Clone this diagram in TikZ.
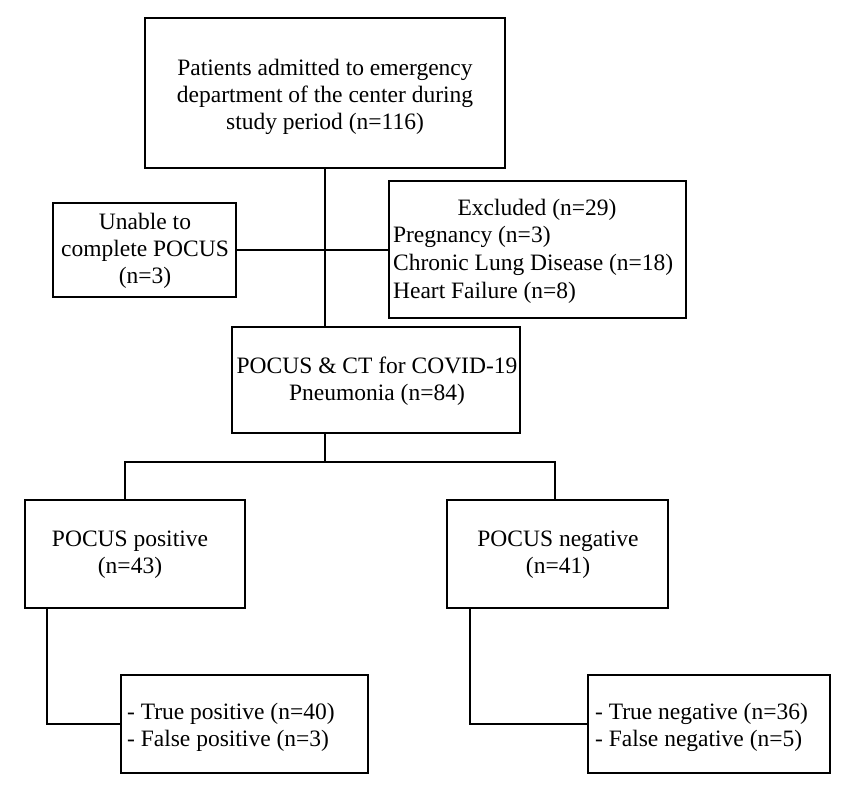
\documentclass[tikz,border=0pt]{standalone}
\usepackage{fontspec}
\setmainfont{Liberation Serif}
\begin{document}
\begin{tikzpicture}[x=1pt,y=-1pt,line width=2.2pt,
  box/.style={draw,black},
  t/.style={font=\fontsize{23.5}{27}\selectfont,inner sep=0pt}]
\useasboundingbox (0,0) rectangle (856,786);
\draw[box] (145,18) rectangle (505,168);
\node[t,align=center] (top) at (325,97) {Patients admitted to emergency\\department of the center during\\study period (n=116)};
\draw[box] (53,203) rectangle (236,297);
\node[t,align=center] (un) at (145,251) {Unable to\\complete POCUS\\(n=3)};
\draw[box] (389,181) rectangle (686,318);
\node[t] (ex) at (537,210) {Excluded (n=29)};
\node[t,anchor=west] at (392,237) {Pregnancy (n=3)};
\node[t,anchor=west] at (392,265) {Chronic Lung Disease (n=18)};
\node[t,anchor=west] at (392,293) {Heart Failure (n=8)};
\draw[box] (232,327) rectangle (520,433);
\node[t,align=center] (ct) at (377,381) {POCUS \& CT for COVID-19\\Pneumonia (n=84)};
\draw[box] (25,500) rectangle (245,608);
\node[t,align=center] (pp) at (130,555) {POCUS positive\\(n=43)};
\draw[box] (447,500) rectangle (668,608);
\node[t,align=center] (pn) at (558,555) {POCUS negative\\(n=41)};
\draw[box] (121,675) rectangle (368,773);
\node[t,anchor=west,align=left] (tp) at (126,727) {- True positive (n=40)\\- False positive (n=3)};
\draw[box] (588,675) rectangle (830,773);
\node[t,anchor=west,align=left] (tn) at (594,727) {- True negative (n=36)\\- False negative (n=5)};
% connectors
\draw (325,168) -- (325,327);
\draw (236,250) -- (389,250);
\draw (325,433) -- (325,462);
\draw (125,500) -- (125,462) -- (555,462) -- (555,500);
\draw (47,608) -- (47,724) -- (121,724);
\draw (470,608) -- (470,724) -- (588,724);
\end{tikzpicture}
\end{document}
